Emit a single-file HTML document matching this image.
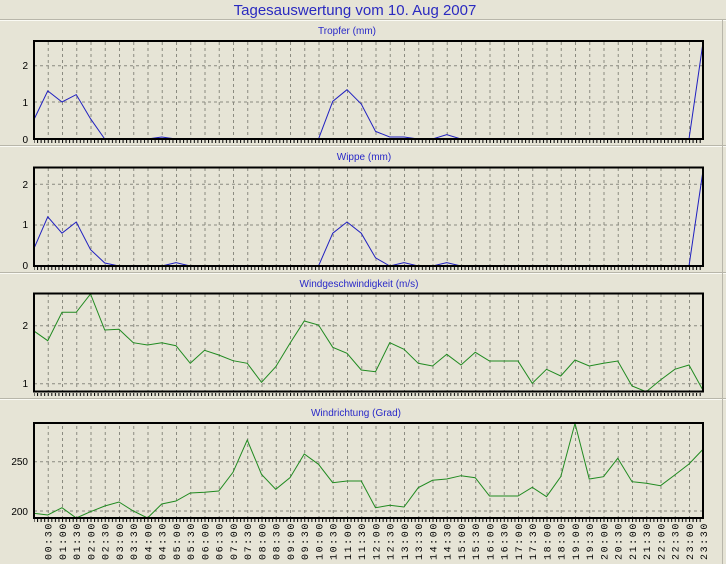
<!DOCTYPE html>
<html><head><meta charset="utf-8"><style>
body{margin:0;background:#e6e4d6;}
svg{display:block;font-family:"Liberation Sans",sans-serif;}
.yl{font-size:10px;fill:#000;text-anchor:end;}
.xl{font-family:"Liberation Mono",monospace;font-size:10px;letter-spacing:1.6px;fill:#000;text-anchor:end;}
.st{font-size:10px;fill:#2828c8;text-anchor:middle;}
.g{stroke:#8a8a80;stroke-width:1;stroke-dasharray:3,3;fill:none;}
.fr{fill:none;stroke:#000;stroke-width:2;}
</style></head><body>
<svg width="726" height="564" viewBox="0 0 726 564" xmlns="http://www.w3.org/2000/svg">
<defs>
<pattern id="vg" x="33.5" y="0" width="14.25" height="600" patternUnits="userSpaceOnUse">
<line x1="0.5" y1="0" x2="0.5" y2="600" stroke="#8a8a80" stroke-width="1" stroke-dasharray="3,3"/>
</pattern>
<pattern id="mt" x="33.5" y="0" width="3.5625" height="10" patternUnits="userSpaceOnUse">
<line x1="0.5" y1="0" x2="0.5" y2="10" stroke="#000" stroke-width="1"/>
</pattern>
</defs>
<rect width="726" height="564" fill="#e6e4d6"/>
<text x="355" y="15" font-size="15" fill="#2a2ac0" text-anchor="middle">Tagesauswertung vom 10. Aug 2007</text>
<line x1="0" y1="19.5" x2="726" y2="19.5" stroke="#b8b6aa"/><line x1="0" y1="20.5" x2="726" y2="20.5" stroke="#fafaf4"/>
<line x1="0" y1="145.5" x2="726" y2="145.5" stroke="#b8b6aa"/><line x1="0" y1="146.5" x2="726" y2="146.5" stroke="#fafaf4"/>
<line x1="0" y1="272.5" x2="726" y2="272.5" stroke="#b8b6aa"/><line x1="0" y1="273.5" x2="726" y2="273.5" stroke="#fafaf4"/>
<line x1="0" y1="398.5" x2="726" y2="398.5" stroke="#b8b6aa"/><line x1="0" y1="399.5" x2="726" y2="399.5" stroke="#fafaf4"/>
<line x1="722.5" y1="20" x2="722.5" y2="564" stroke="#b8b6aa"/>

<!-- Panel 1 -->
<text class="st" x="347" y="34">Tropfer (mm)</text>
<rect x="34" y="41" width="669" height="98" fill="url(#vg)"/>
<line class="g" x1="34" y1="65.7" x2="703" y2="65.7"/><line class="g" x1="34" y1="102" x2="703" y2="102"/>
<rect x="34" y="140" width="669" height="3" fill="url(#mt)"/>
<polyline fill="none" stroke="#2020c0" stroke-width="1" points="33.5,120.5 47.75,90.9 62,102 76.25,94.6 90.5,118.7 104.75,139 147.5,139 161.75,137 176,139 318.5,139 332.75,101.3 347,89.7 361.25,104 375.5,131.3 389.75,137 404,137 418.25,139 432.5,139 446.75,134.7 461,139 689,139 703.25,41"/>
<rect class="fr" x="34" y="41" width="669" height="98"/>
<text class="yl" x="28" y="69">2</text><text class="yl" x="28" y="106">1</text><text class="yl" x="28" y="143">0</text>

<!-- Panel 2 -->
<text class="st" x="364" y="160">Wippe (mm)</text>
<rect x="34" y="167.5" width="669" height="98.5" fill="url(#vg)"/>
<line class="g" x1="34" y1="184.3" x2="703" y2="184.3"/><line class="g" x1="34" y1="225" x2="703" y2="225"/>
<rect x="34" y="267" width="669" height="3" fill="url(#mt)"/>
<polyline fill="none" stroke="#2020c0" stroke-width="1" points="33.5,249.6 47.75,216.8 62,233.2 76.25,222 90.5,249.6 104.75,263 119,266 161.75,266 176,262.7 190.25,266 318.5,266 332.75,233.2 347,222 361.25,233.2 375.5,257.8 389.75,266 404,262.7 418.25,266 432.5,266 446.75,262.7 461,266 689,266 703.25,169"/>
<rect class="fr" x="34" y="167.5" width="669" height="98.5"/>
<text class="yl" x="28" y="188">2</text><text class="yl" x="28" y="228">1</text><text class="yl" x="28" y="269">0</text>

<!-- Panel 3 -->
<text class="st" x="359" y="287">Windgeschwindigkeit (m/s)</text>
<rect x="34" y="293.5" width="669" height="98" fill="url(#vg)"/>
<line class="g" x1="34" y1="325.7" x2="703" y2="325.7"/><line class="g" x1="34" y1="383.7" x2="703" y2="383.7"/>
<rect x="34" y="393" width="669" height="3" fill="url(#mt)"/>
<polyline fill="none" stroke="#208a20" stroke-width="1" points="33.5,330.7 47.75,340.7 62,312.3 76.25,312.3 90.5,294 104.75,330 119,329.3 133.25,342.7 147.5,345 161.75,342.7 176,345.7 190.25,363.3 204.5,350.3 218.75,355 233,360.7 247.25,363.3 261.5,382.3 275.75,366.7 290,343.3 304.25,321 318.5,325 332.75,347.3 347,353.3 361.25,370 375.5,371.7 389.75,342.7 404,349.3 418.25,363.3 432.5,366 446.75,354.3 461,365 475.25,352.3 489.5,361 503.75,361 518,361 532.25,383.3 546.5,369.3 560.75,376 575,360 589.25,366 603.5,363.3 617.75,361 632,386 646.25,391.7 660.5,380 674.75,369.3 689,365 703.25,390.7"/>
<rect class="fr" x="34" y="293.5" width="669" height="98"/>
<text class="yl" x="28" y="329">2</text><text class="yl" x="28" y="387">1</text>

<!-- Panel 4 -->
<text class="st" x="356" y="416">Windrichtung (Grad)</text>
<rect x="34" y="423" width="669" height="95" fill="url(#vg)"/>
<line class="g" x1="34" y1="461.7" x2="703" y2="461.7"/><line class="g" x1="34" y1="511" x2="703" y2="511"/>
<rect x="34" y="519" width="669" height="3" fill="url(#mt)"/>
<polyline fill="none" stroke="#208a20" stroke-width="1" points="33.5,513.3 47.75,515 62,507.7 76.25,518 90.5,511.7 104.75,506 119,502 133.25,511 147.5,518 161.75,504 176,501 190.25,493 204.5,492.3 218.75,491 233,472.3 247.25,440 261.5,474.3 275.75,489.3 290,477.7 304.25,454 318.5,464.3 332.75,482.7 347,481 361.25,481 375.5,507.7 389.75,505.3 404,507 418.25,487.7 432.5,480.3 446.75,479 461,475.7 475.25,477.7 489.5,496 503.75,496 518,496 532.25,487.3 546.5,496.7 560.75,476.7 575,423.3 589.25,479 603.5,476.7 617.75,458.3 632,481.7 646.25,483.3 660.5,485.7 674.75,475 689,464 703.25,449"/>
<rect class="fr" x="34" y="423" width="669" height="95"/>
<text class="yl" x="28" y="465">250</text><text class="yl" x="28" y="515">200</text>

<!-- X labels -->
<g class="xl">
<text transform="translate(51.5,522) rotate(-90)">00:30</text>
<text transform="translate(65.75,522) rotate(-90)">01:00</text>
<text transform="translate(80,522) rotate(-90)">01:30</text>
<text transform="translate(94.25,522) rotate(-90)">02:00</text>
<text transform="translate(108.5,522) rotate(-90)">02:30</text>
<text transform="translate(122.75,522) rotate(-90)">03:00</text>
<text transform="translate(137,522) rotate(-90)">03:30</text>
<text transform="translate(151.25,522) rotate(-90)">04:00</text>
<text transform="translate(165.5,522) rotate(-90)">04:30</text>
<text transform="translate(179.75,522) rotate(-90)">05:00</text>
<text transform="translate(194,522) rotate(-90)">05:30</text>
<text transform="translate(208.25,522) rotate(-90)">06:00</text>
<text transform="translate(222.5,522) rotate(-90)">06:30</text>
<text transform="translate(236.75,522) rotate(-90)">07:00</text>
<text transform="translate(251,522) rotate(-90)">07:30</text>
<text transform="translate(265.25,522) rotate(-90)">08:00</text>
<text transform="translate(279.5,522) rotate(-90)">08:30</text>
<text transform="translate(293.75,522) rotate(-90)">09:00</text>
<text transform="translate(308,522) rotate(-90)">09:30</text>
<text transform="translate(322.25,522) rotate(-90)">10:00</text>
<text transform="translate(336.5,522) rotate(-90)">10:30</text>
<text transform="translate(350.75,522) rotate(-90)">11:00</text>
<text transform="translate(365,522) rotate(-90)">11:30</text>
<text transform="translate(379.25,522) rotate(-90)">12:00</text>
<text transform="translate(393.5,522) rotate(-90)">12:30</text>
<text transform="translate(407.75,522) rotate(-90)">13:00</text>
<text transform="translate(422,522) rotate(-90)">13:30</text>
<text transform="translate(436.25,522) rotate(-90)">14:00</text>
<text transform="translate(450.5,522) rotate(-90)">14:30</text>
<text transform="translate(464.75,522) rotate(-90)">15:00</text>
<text transform="translate(479,522) rotate(-90)">15:30</text>
<text transform="translate(493.25,522) rotate(-90)">16:00</text>
<text transform="translate(507.5,522) rotate(-90)">16:30</text>
<text transform="translate(521.75,522) rotate(-90)">17:00</text>
<text transform="translate(536,522) rotate(-90)">17:30</text>
<text transform="translate(550.25,522) rotate(-90)">18:00</text>
<text transform="translate(564.5,522) rotate(-90)">18:30</text>
<text transform="translate(578.75,522) rotate(-90)">19:00</text>
<text transform="translate(593,522) rotate(-90)">19:30</text>
<text transform="translate(607.25,522) rotate(-90)">20:00</text>
<text transform="translate(621.5,522) rotate(-90)">20:30</text>
<text transform="translate(635.75,522) rotate(-90)">21:00</text>
<text transform="translate(650,522) rotate(-90)">21:30</text>
<text transform="translate(664.25,522) rotate(-90)">22:00</text>
<text transform="translate(678.5,522) rotate(-90)">22:30</text>
<text transform="translate(692.75,522) rotate(-90)">23:00</text>
<text transform="translate(707,522) rotate(-90)">23:30</text>
</g>
</svg>
</body></html>
